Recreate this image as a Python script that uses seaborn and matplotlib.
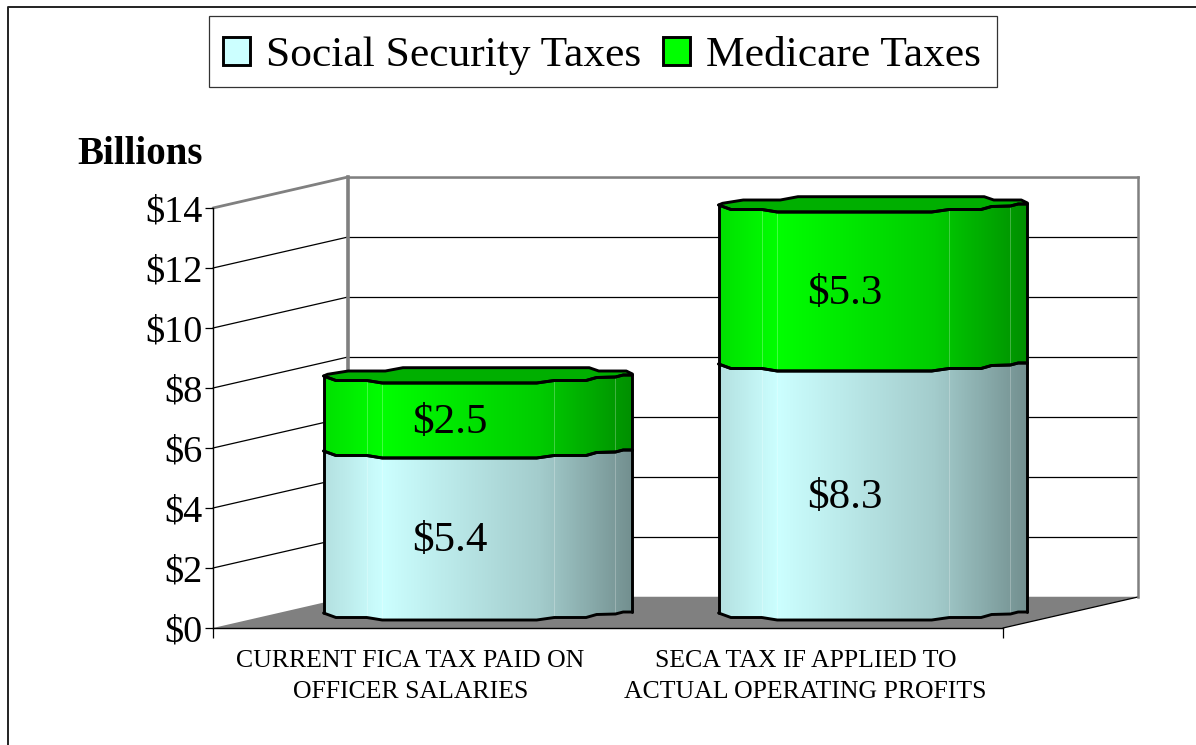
# -*- coding: utf-8 -*-
import numpy as np
import pandas as pd
import seaborn as sns
import matplotlib
matplotlib.use("Agg")
import matplotlib.pyplot as plt
from matplotlib.patches import Patch, Polygon, Rectangle
from matplotlib.colors import to_rgb

# data
categories = ["CURRENT FICA TAX PAID ON\nOFFICER SALARIES",
              "SECA TAX IF APPLIED TO\nACTUAL OPERATING PROFITS"]
social_security = [5.4, 8.3]
medicare = [2.5, 5.3]
y_ticks = [0, 2, 4, 6, 8, 10, 12, 14]
y_labels = ["$0", "$2", "$4", "$6", "$8", "$10", "$12", "$14"]

W, H = 1196, 745
UNIT = 30.0  # px for one billion

# shape of the "3d" column: (fraction of width, px below/above the value)
front_x = [0, .04, .14, .19, .69, .747, .85, .884, .945, .97, 1]
front_drop = [1, 5.5, 5.5, 8, 8, 5.5, 5.5, 2.5, 2, 0, 0]
back_x = [0, .013, .08, .2, .257, .86, .891, .98, 1]
back_rise = [-1, .7, 4, 4, 7.3, 7.3, 4, 4, 1]
shade_x = [0, .19, .7, .85, 1]
shade_v = [.88, 1, .8, .68, .56]

sns.set_style("white")
plt.rcParams["font.family"] = ["Liberation Serif", "DejaVu Serif"]
plt.rcParams["text.color"] = "black"
plt.rcParams["xtick.color"] = "black"
plt.rcParams["ytick.color"] = "black"

fig = plt.figure(figsize=(W / 100, H / 100), dpi=100)


def add_ax(left, top, right, bottom, **kw):
    return fig.add_axes([left / W, 1 - bottom / H, (right - left) / W, (bottom - top) / H], **kw)


# page in pixels, for border, floor and side wall
page = add_ax(0, 0, W, H, zorder=0)
page.set_xlim(0, W)
page.set_ylim(H, 0)
page.axis("off")
page.plot([8, 8, W], [H, 7, 7], color="#222222", lw=1.4)

F_L, F_R, F_0 = 213, 1003, 628
B_L, B_R, B_0 = 348, 1138, 597

page.add_patch(Polygon([(F_L, F_0), (B_L, B_0), (B_R, B_0), (F_R, F_0)], fc="#808080", ec="none"))
page.plot([F_R, B_R], [F_0, B_0], color="black", lw=.9)
for v in y_ticks[1:]:
    top = v == y_ticks[-1]
    page.plot([F_L, B_L], [F_0 - v * UNIT, B_0 - v * UNIT],
              color="#808080" if top else "black", lw=2 if top else .9)

# back wall
wall = add_ax(B_L, B_0 - 14 * UNIT, B_R, B_0, zorder=1)
wall.patch.set_alpha(0)
wall.set_xlim(0, 1)
wall.set_ylim(0, 14)
wall.set_xticks([])
wall.set_yticks(y_ticks)
wall.tick_params(left=False, labelleft=False)
wall.grid(axis="y", color="black", lw=.9)
wall.set_axisbelow(True)
wall.spines["bottom"].set_visible(False)
wall.spines["left"].set(color="#808080", lw=2.6)
wall.spines["top"].set(color="#808080", lw=1.8)
wall.spines["right"].set(color="#808080", lw=1.8)

# front plane carries the axes ticks and labels
front = add_ax(F_L, F_0 - 14 * UNIT, F_R, F_0, zorder=2)
front.patch.set_alpha(0)
front.set_xlim(-.5, 1.5)
front.set_ylim(0, 14)
front.set_yticks(y_ticks)
front.set_yticklabels(y_labels, fontsize=27.5)
front.set_xticks([0, 1])
front.set_xticklabels(categories, fontsize=18.5, linespacing=1.56)
front.set_xticks([-.5, 1.5], minor=True)
front.tick_params(axis="x", which="major", length=0, pad=15.5)
front.tick_params(axis="x", which="minor", length=7, width=.9, color="black", bottom=True)
front.tick_params(axis="y", length=6, width=.9, color="black", left=True, pad=1.5)
for s in ["top", "right"]:
    front.spines[s].set_visible(False)
front.spines["left"].set(color="black", lw=1)
front.spines["bottom"].set(color="black", lw=1)

# columns stand half way between wall and front
ax = add_ax((F_L + B_L) / 2, 612 - 14.4 * UNIT, (F_R + B_R) / 2, 612 + .6 * UNIT, zorder=3)
ax.patch.set_alpha(0)

df = pd.DataFrame({"cat": categories, "ss": social_security, "med": medicare})
sns.barplot(data=df, x="cat", y="ss", color="#CCFFFF", saturation=1, width=.782, ax=ax)
sns.barplot(data=df, x="cat", y="med", bottom=df["ss"], color="#00FF00", saturation=1, width=.782, ax=ax)

xs = np.linspace(0, 1, 300)
shade = np.interp(xs, shade_x, shade_v)
EDGE = 2.1


def column_face(x, w, y0, y1, top_col):
    fx = x + np.array(front_x) * w
    d = np.array(front_drop) / UNIT
    low = list(zip(fx, y0 - d))
    up = list(zip(fx, y1 - d))
    poly = Polygon(low + up[::-1], closed=True, transform=ax.transData, fc="none", ec="none")
    ax.add_patch(poly)
    rgb = np.array(to_rgb(top_col))
    img = (shade[:, None] * rgb)[None, :, :]
    im = ax.imshow(img, extent=(x, x + w, y0 - 10 / UNIT, y1), aspect="auto", zorder=3, interpolation="nearest")
    im.set_clip_path(poly)
    for f in [.14, .19, .747, .945]:
        ln, = ax.plot([x + f * w] * 2, [y0 - 8 / UNIT, y1 - 2 / UNIT], color="white", lw=.6, alpha=.3, zorder=3.5)
        ln.set_clip_path(poly)
    ax.plot(*zip(*low), color="black", lw=EDGE, zorder=5, solid_capstyle="round")
    ax.plot(*zip(*up), color="black", lw=EDGE, zorder=5, solid_capstyle="round")
    ax.plot([x, x], [y0 - d[0], y1 - d[0]], color="black", lw=EDGE, zorder=5)
    ax.plot([x + w, x + w], [y0 - d[-1], y1 - d[-1]], color="black", lw=EDGE, zorder=5)


n = len(categories)
for i in range(n):
    bar_ss = ax.patches[i]
    bar_med = ax.patches[n + i]
    x, w = bar_ss.get_x(), bar_ss.get_width()
    bar_ss.set_visible(False)
    bar_med.set_visible(False)
    y1 = bar_ss.get_height()
    y2 = y1 + bar_med.get_height()
    column_face(x, w, 0, y1, "#CCFFFF")
    column_face(x, w, y1, y2, "#00FF00")
    # top face
    fx = x + np.array(front_x) * w
    bx = x + np.array(back_x) * w
    pts = list(zip(fx, y2 - np.array(front_drop) / UNIT)) + list(zip(bx, y2 + np.array(back_rise) / UNIT))[::-1]
    ax.add_patch(Polygon(pts, closed=True, fc="#00AF00", ec="black", lw=EDGE, zorder=4.5, joinstyle="round"))
    # labels
    ax.text(i - .072, y1 / 2 - .33, f"${social_security[i]:.1f}", ha="center", va="center", fontsize=31, zorder=6)
    ax.text(i - .072, y1 + medicare[i] / 2 - .33, f"${medicare[i]:.1f}", ha="center", va="center", fontsize=31, zorder=6)

ax.set_xlim(-.5, 1.5)
ax.set_ylim(-.6, 14.4)
ax.axis("off")

page.text(140, 155, "Billions", fontsize=28, fontweight="bold", ha="center", va="center")

# legend frame is separate, the text sits a bit low in it
page.add_patch(Rectangle((209, 16), 788, 71, fc="white", ec="#333333", lw=.9, zorder=4))
handles = [Patch(facecolor="#CCFFFF", edgecolor="black", lw=2.1, label="Social Security Taxes"),
           Patch(facecolor="#00FF00", edgecolor="black", lw=2.1, label="Medicare Taxes")]
leg = page.legend(handles=handles, ncol=2, fontsize=31.3, frameon=False, loc="center",
                  bbox_to_anchor=(602, 56), bbox_transform=page.transData,
                  handlelength=.62, handleheight=.62, handletextpad=.38, columnspacing=.48, borderpad=0)
leg.set_zorder(5)

fig.savefig("out.png", dpi=100)
